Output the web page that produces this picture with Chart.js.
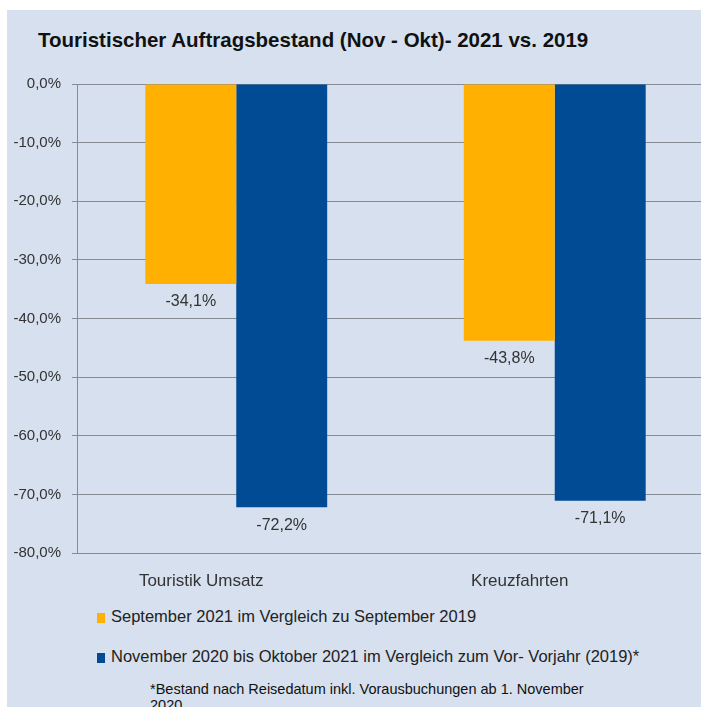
<!DOCTYPE html>
<html>
<head>
<meta charset="utf-8">
<script src="https://cdn.jsdelivr.net/npm/chart.js@4"></script>
<style>
  html { overflow: hidden; background: #d6e0ee; }
  html, body { margin: 0; padding: 0; }
  body { position: relative; width: 701px; height: 707px; overflow: hidden; font-family: "Liberation Sans", Arial, sans-serif; }
  #topStrip { position: absolute; left: 0; top: 0; width: 701px; height: 10px; background: #fff; }
  #leftStrip { position: absolute; left: 0; top: 0; width: 7px; height: 707px; background: #fff; }
  #panel { position: absolute; left: 7px; top: 10px; width: 720px; height: 720px; background: #d6e0ee; }
  #title { position: absolute; left: 31px; top: 18px; font-size: 20.5px; font-weight: bold; color: #111; white-space: nowrap; }
  #chartWrap { position: absolute; left: 0; top: 54px; width: 720px; height: 536px; }
  .leg { position: absolute; left: 90px; font-size: 16.5px; color: #222; white-space: nowrap; }
  .leg i { display: inline-block; width: 8px; height: 10px; margin-right: 6px; vertical-align: -1px; }
  #note { position: absolute; left: 143px; top: 671px; width: 455px; font-size: 14.5px; line-height: 16px; color: #111; }
</style>
</head>
<body>
<div id="topStrip"></div>
<div id="leftStrip"></div>
<div id="panel">
  <div id="title">Touristischer Auftragsbestand (Nov - Okt)- 2021 vs. 2019</div>
  <div id="chartWrap"><canvas id="chartCanvas" width="720" height="536"></canvas></div>
  <div id="legend"></div>
  <div id="note">*Bestand nach Reisedatum inkl. Vorausbuchungen ab 1. November 2020</div>
</div>
<script>
// --- Data ---
const categories = ["Touristik Umsatz", "Kreuzfahrten"];
const seriesNames = [
  "September 2021 im Vergleich zu September 2019",
  "November 2020 bis Oktober 2021 im Vergleich zum Vor- Vorjahr (2019)*"
];
const septValues = [-34.1, -43.8];
const novOctValues = [-72.2, -71.1];
const seriesColors = ["#ffb000", "#004b93"];

const fmt = v => v.toFixed(1).replace(".", ",") + "%";

// --- Legend (HTML, two rows) ---
const legend = document.getElementById("legend");
seriesNames.forEach((name, i) => {
  const row = document.createElement("div");
  row.className = "leg";
  row.style.top = (597 + i * 40) + "px";
  row.innerHTML = `<i style="background:${seriesColors[i]}"></i>${name}`;
  legend.appendChild(row);
});

// --- Value labels under each bar ---
const valueLabels = {
  id: "valueLabels",
  afterDatasetsDraw(chart) {
    const ctx = chart.ctx;
    ctx.save();
    ctx.font = "16px 'Liberation Sans', Arial, sans-serif";
    ctx.fillStyle = "#333";
    ctx.textAlign = "center";
    ctx.textBaseline = "middle";
    chart.data.datasets.forEach((ds, di) => {
      chart.getDatasetMeta(di).data.forEach((bar, i) => {
        ctx.fillText(fmt(ds.data[i]), bar.x, bar.y + 18);
      });
    });
    ctx.restore();
  }
};

const canvas = document.getElementById("chartCanvas").getContext("2d");
new Chart(canvas, {
  type: "bar",
  data: {
    labels: categories,
    datasets: [
      { label: seriesNames[0], data: septValues, backgroundColor: seriesColors[0] },
      { label: seriesNames[1], data: novOctValues, backgroundColor: seriesColors[1] }
    ]
  },
  options: {
    responsive: false,
    animation: false,
    layout: { padding: { top: 8, right: 13, left: 0, bottom: 0 } },
    datasets: { bar: { categoryPercentage: 0.571, barPercentage: 1 } },
    plugins: {
      legend: { display: false },
      title: { display: false },
      tooltip: { enabled: false }
    },
    scales: {
      x: {
        grid: { display: false, drawTicks: false },
        border: { display: false },
        ticks: {
          padding: 18,
          labelOffset: -35,
          color: "#333",
          font: { family: "'Liberation Sans', Arial, sans-serif", size: 17 }
        },
        afterFit: s => { s.height = 47; }
      },
      y: {
        min: -80,
        max: 0,
        ticks: {
          stepSize: 10,
          padding: 11,
          color: "#333",
          font: { family: "'Liberation Sans', Arial, sans-serif", size: 15 },
          callback: v => fmt(v)
        },
        grid: { color: "#868b94", lineWidth: 1, tickLength: 5 },
        border: { color: "#868b94", width: 1 },
        afterFit: s => { s.width = 70; }
      }
    }
  },
  plugins: [valueLabels]
});
</script>
</body>
</html>
